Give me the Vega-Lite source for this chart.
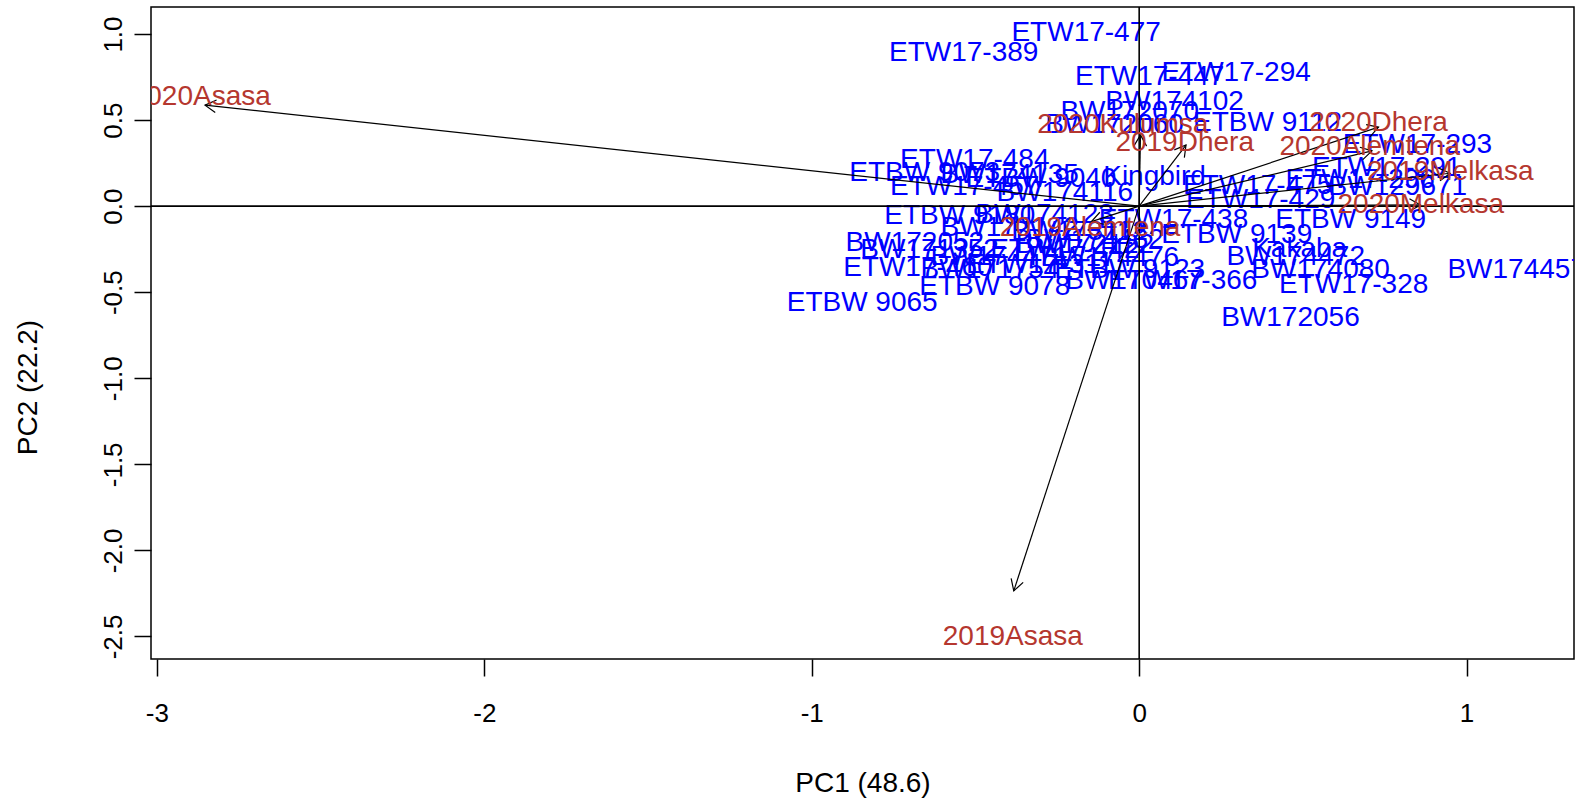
{
  "$schema": "https://vega.github.io/schema/vega-lite/v6.json",
  "autosize": "none",
  "width": 1423,
  "height": 652,
  "padding": {"left": 151, "top": 7, "right": 10, "bottom": 142},
  "background": "white",
  "config": {
    "view": {"stroke": "black", "strokeWidth": 1.5},
    "font": "Liberation Sans",
    "axis": {"grid": false, "domain": false, "tickColor": "black", "tickWidth": 1.5, "tickSize": 17, "labelColor": "black", "titleColor": "black", "labelFont": "Liberation Sans", "titleFont": "Liberation Sans", "titleFontWeight": "normal", "labelFontSize": 26, "titleFontSize": 28}
  },
  "datasets": {
    "env": [
      {"env": "2020Asasa", "x0": 0, "y0": 0, "ax": -2.853, "ay": 0.587, "lx": -2.866, "ly": 0.636},
      {"env": "2019Asasa", "x0": 0, "y0": 0, "ax": -0.383, "ay": -2.235, "lx": -0.386, "ly": -2.505},
      {"env": "2019Dhera", "x0": 0, "y0": 0, "ax": 0.143, "ay": 0.355, "lx": 0.139, "ly": 0.365},
      {"env": "2020Dhera", "x0": 0, "y0": 0, "ax": 0.731, "ay": 0.459, "lx": 0.731, "ly": 0.482},
      {"env": "2020Alemtena", "x0": 0, "y0": 0, "ax": 0.711, "ay": 0.321, "lx": 0.704, "ly": 0.346},
      {"env": "2019Melkasa", "x0": 0, "y0": 0, "ax": 0.95, "ay": 0.191, "lx": 0.95, "ly": 0.2},
      {"env": "2020Melkasa", "x0": 0, "y0": 0, "ax": 0.859, "ay": 0.007, "lx": 0.86, "ly": 0.007},
      {"env": "2019Alemtena", "x0": 0, "y0": 0, "ax": -0.146, "ay": -0.09, "lx": -0.15, "ly": -0.127},
      {"env": "2020Kulumsa", "x0": 0, "y0": 0, "ax": 0.004, "ay": 0.413, "lx": -0.05, "ly": 0.47}
    ],
    "gen": [
      {"gen": "ETW17-477", "x": -0.162, "y": 1.004},
      {"gen": "ETW17-389", "x": -0.536, "y": 0.888},
      {"gen": "ETW17-447", "x": 0.032, "y": 0.75},
      {"gen": "ETW17-294", "x": 0.296, "y": 0.774},
      {"gen": "BW174102", "x": 0.108, "y": 0.607},
      {"gen": "BW172070", "x": -0.029, "y": 0.549},
      {"gen": "BW172060", "x": -0.075, "y": 0.472},
      {"gen": "ETBW 9112", "x": 0.392, "y": 0.483},
      {"gen": "ETW17-293", "x": 0.85, "y": 0.358},
      {"gen": "ETW17-291", "x": 0.756, "y": 0.22},
      {"gen": "BW129671", "x": 0.79, "y": 0.11},
      {"gen": "ETW17-475", "x": 0.362, "y": 0.117},
      {"gen": "ETW17-429", "x": 0.371, "y": 0.036},
      {"gen": "ETW17-296", "x": 0.675, "y": 0.15},
      {"gen": "ETBW 9149", "x": 0.646, "y": -0.08},
      {"gen": "ETW17-438", "x": 0.105, "y": -0.08},
      {"gen": "ETBW 9139", "x": 0.298, "y": -0.167},
      {"gen": "Kakaba", "x": 0.49, "y": -0.249},
      {"gen": "BW174472", "x": 0.478, "y": -0.295},
      {"gen": "BW174080", "x": 0.554, "y": -0.371},
      {"gen": "ETW17-328", "x": 0.655, "y": -0.458},
      {"gen": "BW174457", "x": 1.153, "y": -0.371},
      {"gen": "BW172056", "x": 0.462, "y": -0.649},
      {"gen": "ETW17-366", "x": 0.133, "y": -0.434},
      {"gen": "BW170467", "x": -0.014, "y": -0.434},
      {"gen": "ETBW 9078", "x": -0.441, "y": -0.469},
      {"gen": "ETBW 9065", "x": -0.846, "y": -0.562},
      {"gen": "ETW17-460", "x": -0.676, "y": -0.359},
      {"gen": "BW172052", "x": -0.685, "y": -0.214},
      {"gen": "ETBW 9180", "x": -0.548, "y": -0.057},
      {"gen": "ETW17-484", "x": -0.502, "y": 0.268},
      {"gen": "ETBW 9073", "x": -0.655, "y": 0.193},
      {"gen": "ETW17-457", "x": -0.533, "y": 0.113},
      {"gen": "BW174116", "x": -0.227, "y": 0.077},
      {"gen": "Kingbird", "x": 0.047, "y": 0.17},
      {"gen": "BW174135", "x": -0.396, "y": 0.18},
      {"gen": "ETBW 9040", "x": -0.3, "y": 0.16},
      {"gen": "BW174123", "x": -0.289, "y": -0.051},
      {"gen": "BW172142", "x": -0.395, "y": -0.127},
      {"gen": "BW173112", "x": -0.182, "y": -0.15},
      {"gen": "BW171352", "x": -0.64, "y": -0.254},
      {"gen": "BW174471", "x": -0.426, "y": -0.295},
      {"gen": "BW171754", "x": -0.456, "y": -0.371},
      {"gen": "ETW17-442", "x": -0.227, "y": -0.254},
      {"gen": "BW174476", "x": -0.09, "y": -0.301},
      {"gen": "ETBW 9123", "x": -0.029, "y": -0.371},
      {"gen": "BW174432", "x": -0.136, "y": -0.196},
      {"gen": "ETW17-311", "x": -0.304, "y": -0.342},
      {"gen": "BW172122", "x": -0.166, "y": -0.225}
    ]
  },
  "layer": [
    {"data": {"name": "gen"}, "mark": {"type": "text", "color": "#0000FF", "fontSize": 28, "font": "Liberation Sans", "align": "center", "baseline": "middle", "clip": true},
      "encoding": {
        "x": {"field": "x", "type": "quantitative", "scale": {"domain": [-3.018, 1.328], "nice": false, "zero": false},
          "axis": {"values": [-3, -2, -1, 0, 1], "labelExpr": "replace(format(datum.value,'d'),'\u2212','-')", "labelPadding": 24, "title": "PC1 (48.6)", "titleY": 124, "titleBaseline": "middle"}},
        "y": {"field": "y", "type": "quantitative", "scale": {"domain": [-2.631, 1.157], "nice": false, "zero": false},
          "axis": {"values": [-2.5, -2, -1.5, -1, -0.5, 0, 0.5, 1], "labelExpr": "replace(format(datum.value,'.1f'),'\u2212','-')", "labelAngle": -90, "labelAlign": "center", "labelBaseline": "alphabetic", "labelPadding": 13, "title": "PC2 (22.2)", "titleX": -123, "titleY": 380, "titleAngle": -90, "titleAlign": "center", "titleBaseline": "middle"}},
        "text": {"field": "gen", "type": "nominal"}}},
    {"data": {"values": [{"v": 0}]}, "mark": {"type": "rule", "color": "black", "strokeWidth": 1.6}, "encoding": {"x": {"field": "v", "type": "quantitative", "title": "PC1 (48.6)"}}},
    {"data": {"values": [{"v": 0}]}, "mark": {"type": "rule", "color": "black", "strokeWidth": 1.6}, "encoding": {"y": {"field": "v", "type": "quantitative", "title": "PC2 (22.2)"}}},
    {"data": {"name": "env"}, "mark": {"type": "rule", "color": "black", "strokeWidth": 1.2},
      "encoding": {"x": {"field": "x0", "type": "quantitative", "title": "PC1 (48.6)"}, "y": {"field": "y0", "type": "quantitative", "title": "PC2 (22.2)"}, "x2": {"field": "ax"}, "y2": {"field": "ay"}}},
    {"data": {"name": "env"}, "transform": [{"calculate": "atan2(datum.ax*327.5, datum.ay*172.2)*180/PI", "as": "ang"}],
      "mark": {"type": "point", "shape": "M-0.5,0.866L0,0L0.5,0.866", "filled": false, "size": 640, "color": "black", "strokeWidth": 1.2, "opacity": 1},
      "encoding": {"x": {"field": "ax", "type": "quantitative", "title": "PC1 (48.6)"}, "y": {"field": "ay", "type": "quantitative", "title": "PC2 (22.2)"}, "angle": {"field": "ang", "type": "quantitative", "scale": null}}},
    {"data": {"name": "env"}, "mark": {"type": "text", "color": "#B5372F", "fontSize": 28, "font": "Liberation Sans", "align": "center", "baseline": "middle", "clip": true},
      "encoding": {"x": {"field": "lx", "type": "quantitative", "title": "PC1 (48.6)"}, "y": {"field": "ly", "type": "quantitative", "title": "PC2 (22.2)"}, "text": {"field": "env", "type": "nominal"}}}
  ]
}
